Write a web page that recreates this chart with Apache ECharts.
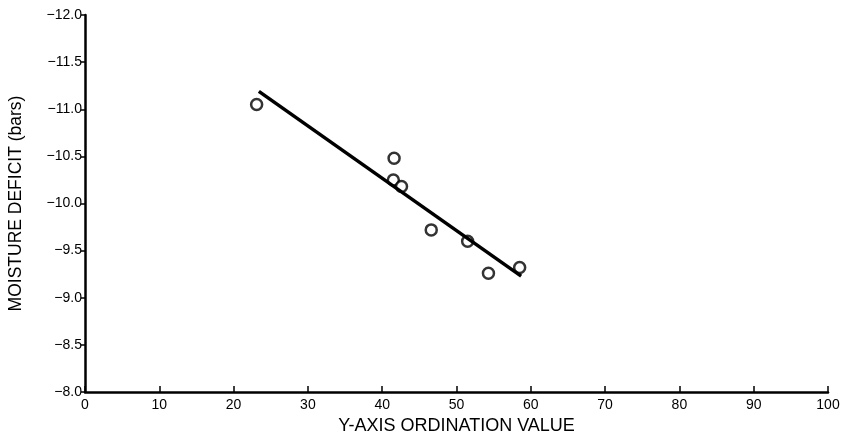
<!DOCTYPE html>
<html><head><meta charset="utf-8">
<script src="https://cdn.jsdelivr.net/npm/echarts@6/dist/echarts.min.js"></script>
<style>html,body{margin:0;padding:0;background:#fff}#c{width:855px;height:433px}</style>
</head><body><div id="c"></div>
<script>
const ordination = [23.1, 41.6, 41.5, 42.6, 46.6, 51.5, 54.3, 58.5];
const deficit = [-11.05, -10.48, -10.25, -10.18, -9.72, -9.60, -9.26, -9.32];
const fitX = [23.4, 58.7];
const fitY = [-11.19, -9.23];
const xTitle = 'Y-AXIS ORDINATION VALUE';
const yTitle = 'MOISTURE DEFICIT (bars)';

const font = 'Liberation Sans, Arial, sans-serif';
const chart = echarts.init(document.getElementById('c'));
chart.setOption({
  animation: false,
  backgroundColor: '#fff',
  grid: {left: 85, right: 27, top: 15, bottom: 41, containLabel: false, outerBoundsMode: 'none'},
  xAxis: {
    type: 'value', min: 0, max: 100, interval: 10,
    name: xTitle, nameLocation: 'middle', nameGap: 21,
    nameTextStyle: {color: '#000', fontFamily: font, fontSize: 18, verticalAlign: 'top'},
    axisLine: {lineStyle: {color: '#000', width: 2.5}},
    axisTick: {inside: true, length: 6, lineStyle: {color: '#000', width: 1.5}},
    axisLabel: {color: '#000', fontFamily: font, fontSize: 14, margin: 6},
    splitLine: {show: false}
  },
  yAxis: {
    type: 'value', min: -12, max: -8, interval: 0.5, inverse: true,
    name: yTitle, nameLocation: 'middle', nameGap: 60, nameRotate: 90,
    nameTextStyle: {color: '#000', fontFamily: font, fontSize: 17.5},
    axisLine: {lineStyle: {color: '#000', width: 2.5}},
    axisTick: {length: 4, lineStyle: {color: '#000', width: 1.5}},
    axisLabel: {color: '#000', fontFamily: font, fontSize: 14, margin: 3,
      formatter: v => v.toFixed(1).replace('-', '\u2212')},
    splitLine: {show: false}
  },
  series: [
    {type: 'line', data: fitX.map((x, i) => [x, fitY[i]]), symbol: 'none',
     lineStyle: {color: '#000', width: 3.5}},
    {type: 'scatter', data: ordination.map((x, i) => [x, deficit[i]]),
     symbol: 'circle', symbolSize: 11,
     itemStyle: {color: '#fff', borderColor: '#000', borderWidth: 2.5}}
  ]
});
</script></body></html>
